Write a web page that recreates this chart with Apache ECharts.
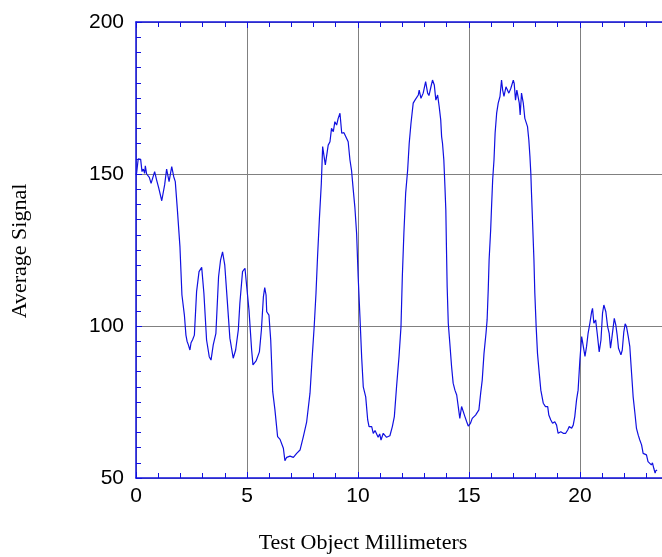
<!DOCTYPE html>
<html lang="en">
<head>
    <meta charset="UTF-8">
    <title>Average Signal</title>
    <style>
        body {
            margin: 0;
            background: #fff;
        }

        #main {
            width: 662px;
            height: 557px;
        }
    </style>
</head>
<body>
<div id="main"></div>
<script src="https://cdn.jsdelivr.net/npm/echarts@6/dist/echarts.min.js"></script>
<script>
    let mm = [
        0.00, 0.03, 0.10, 0.21, 0.27, 0.33, 0.39, 0.42, 0.48, 0.55, 0.60, 0.68, 0.75, 0.84, 0.93,
        1.02, 1.10, 1.16, 1.22, 1.29, 1.38, 1.49, 1.61, 1.70, 1.77, 1.86, 1.98, 2.07, 2.18, 2.25,
        2.30, 2.36, 2.43, 2.48, 2.55, 2.63, 2.73, 2.84, 2.96, 3.06, 3.18, 3.30, 3.38, 3.48, 3.60,
        3.72, 3.81, 3.90, 4.00, 4.11, 4.23, 4.38, 4.49, 4.61, 4.68, 4.80, 4.91, 4.98, 5.09, 5.21,
        5.27, 5.33, 5.41, 5.50, 5.56, 5.65, 5.74, 5.80, 5.86, 5.89, 5.99, 6.07, 6.16, 6.26, 6.38,
        6.49, 6.56, 6.64, 6.71, 6.79, 6.94, 7.09, 7.24, 7.39, 7.46, 7.54, 7.69, 7.84, 7.94, 8.03,
        8.11, 8.18, 8.26, 8.35, 8.41, 8.47, 8.53, 8.59, 8.66, 8.74, 8.81, 8.89, 8.96, 9.04, 9.11,
        9.19, 9.27, 9.37, 9.46, 9.56, 9.64, 9.71, 9.79, 9.86, 9.94, 10.01, 10.09, 10.17, 10.24, 10.35,
        10.44, 10.50, 10.62, 10.69, 10.77, 10.84, 10.91, 10.98, 11.04, 11.14, 11.22, 11.29, 11.44, 11.55, 11.64,
        11.74, 11.85, 11.94, 12.00, 12.07, 12.15, 12.24, 12.31, 12.39, 12.49, 12.57, 12.65, 12.72, 12.76, 12.84,
        12.94, 13.05, 13.14, 13.20, 13.29, 13.36, 13.44, 13.51, 13.59, 13.66, 13.73, 13.77, 13.81, 13.87, 13.92,
        13.96, 13.99, 14.02, 14.07, 14.14, 14.22, 14.29, 14.37, 14.45, 14.52, 14.59, 14.67, 14.74, 14.82, 14.90,
        14.97, 15.07, 15.15, 15.22, 15.30, 15.45, 15.53, 15.60, 15.68, 15.77, 15.82, 15.87, 15.91, 15.98, 16.02,
        16.07, 16.13, 16.18, 16.25, 16.32, 16.40, 16.47, 16.52, 16.58, 16.67, 16.73, 16.80, 16.89, 17.00, 17.04,
        17.10, 17.16, 17.22, 17.27, 17.31, 17.37, 17.45, 17.52, 17.58, 17.64, 17.70, 17.75, 17.79, 17.82, 17.87,
        17.93, 17.97, 18.03, 18.09, 18.17, 18.24, 18.35, 18.45, 18.55, 18.60, 18.69, 18.77, 18.87, 18.95, 19.02,
        19.14, 19.25, 19.36, 19.45, 19.52, 19.63, 19.70, 19.77, 19.85, 19.92, 20.00, 20.08, 20.15, 20.23, 20.30,
        20.37, 20.45, 20.53, 20.57, 20.63, 20.71, 20.78, 20.87, 20.95, 21.02, 21.08, 21.17, 21.25, 21.32, 21.38,
        21.44, 21.55, 21.62, 21.68, 21.74, 21.80, 21.85, 21.91, 21.98, 22.04, 22.10, 22.18, 22.25, 22.33, 22.40,
        22.48, 22.55, 22.63, 22.70, 22.78, 22.85, 22.93, 23.00, 23.07, 23.15, 23.22, 23.27, 23.33, 23.39, 23.42,
        23.48
    ]
    let signal = [
        149.7, 150.4, 155.0, 154.8, 150.8, 151.6, 150.2, 152.7, 150.0, 150.4, 148.9, 146.9, 147.5, 150.8, 148.0,
        145.5, 145.2, 141.2, 141.2, 146.4, 151.6, 147.5, 152.4, 149.1, 147.5, 138.7, 126.1, 110.2, 103.6, 97.0,
        95.0, 93.8, 92.1, 94.5, 95.5, 97.0, 111.3, 117.9, 119.3, 110.7, 95.4, 89.9, 88.8, 93.8, 97.6,
        116.2, 121.7, 124.4, 120.0, 108.6, 96.0, 89.4, 92.1, 98.7, 107.5, 117.9, 119.0, 118.4, 105.3, 92.1,
        87.2, 87.2, 88.5, 88.6, 91.5, 98.7, 109.6, 112.6, 110.2, 104.7, 103.6, 95.4, 78.4, 72.4, 63.6,
        62.7, 63.0, 59.8, 55.7, 56.8, 57.2, 56.8, 58.1, 59.2, 59.5, 63.6, 68.5, 77.9, 89.9, 100.0,
        110.8, 122.8, 134.9, 146.9, 159.0, 158.5, 153.0, 153.5, 159.5, 160.6, 165.0, 163.9, 167.2, 166.1, 168.3,
        170.0, 163.4, 163.6, 163.9, 160.6, 154.6, 151.3, 144.7, 139.2, 130.5, 116.2, 103.1, 89.4, 80.0, 76.7,
        69.1, 66.9, 66.9, 64.7, 65.6, 65.2, 63.4, 64.5, 62.5, 64.7, 65.2, 63.4, 63.9, 66.9, 70.2,
        80.0, 89.9, 99.8, 116.2, 130.5, 143.7, 151.3, 160.1, 166.7, 173.3, 174.3, 174.9, 176.0, 177.6, 174.9,
        176.6, 180.4, 176.6, 175.8, 178.7, 180.9, 179.3, 174.3, 176.0, 172.2, 167.8, 162.3, 160.1, 154.6, 145.8,
        138.2, 125.0, 112.9, 100.9, 94.3, 86.6, 81.2, 78.9, 77.3, 73.5, 69.6, 73.5, 73.5, 70.2, 68.5,
        67.1, 68.0, 69.6, 70.2, 70.7, 72.4, 77.9, 82.2, 91.0, 97.6, 102.0, 111.8, 121.7, 131.6, 139.2,
        148.0, 154.6, 163.4, 170.0, 173.3, 175.5, 180.9, 177.6, 175.5, 178.7, 179.3, 176.6, 178.2, 180.9, 179.8,
        174.3, 177.6, 177.6, 173.3, 169.4, 176.6, 173.3, 168.3, 168.3, 165.6, 161.2, 155.7, 150.2, 143.7, 133.8,
        121.7, 110.8, 99.8, 91.0, 84.4, 78.9, 74.6, 73.5, 73.5, 70.7, 69.1, 68.0, 68.5, 67.4, 64.7,
        65.2, 64.7, 64.7, 65.8, 66.9, 66.4, 67.4, 70.2, 75.7, 78.9, 88.8, 96.5, 96.0, 90.0, 93.2,
        97.6, 100.9, 104.7, 105.8, 100.9, 102.0, 97.6, 91.5, 95.4, 104.2, 106.9, 104.7, 99.8, 97.6, 92.7,
        96.0, 102.5, 100.3, 97.0, 92.7, 92.7, 90.5, 92.1, 98.1, 100.7, 99.8, 96.5, 93.2, 84.4, 76.7,
        71.3, 66.3, 64.1, 62.5, 60.9, 58.1, 58.1, 57.6, 55.4, 55.9, 54.3, 55.0, 53.2, 51.6, 52.4,
        52.6
    ]
    let xTicks = [0, 5, 10, 15, 20]
    let yTicks = [50, 100, 150, 200]

    let points = mm.map((x, i) => [x, signal[i]])
    let blue = '#1010e0'
    let xMax = 23.7 // the picture is cut at the right edge
    let labelFont = {
        color: '#000',
        fontFamily: 'Liberation Sans, Arial, sans-serif',
        fontSize: 21
    }

    let myChart = echarts.init(document.querySelector('#main'))
    let option = {
        animation: false,
        grid: {
            left: 136,
            top: 22,
            right: 0,
            bottom: 79
        },
        xAxis: [
            {
                type: 'value',
                min: xTicks[0],
                max: xMax,
                interval: 5,
                axisLine: {onZero: false, lineStyle: {color: blue, width: 1.5}},
                axisTick: {inside: true, length: 6, lineStyle: {color: blue}},
                minorTick: {show: true, splitNumber: 5, length: 5, lineStyle: {color: blue}},
                splitLine: {show: true, showMaxLine: false, lineStyle: {color: '#808080', width: 1}},
                axisLabel: Object.assign({margin: 8, showMaxLabel: false}, labelFont)
            },
            {
                type: 'value',
                position: 'top',
                min: xTicks[0],
                max: xMax,
                interval: 5,
                axisLine: {onZero: false, lineStyle: {color: blue, width: 1.5}},
                axisTick: {inside: true, length: 6, lineStyle: {color: blue}},
                minorTick: {show: true, splitNumber: 5, length: 5, lineStyle: {color: blue}},
                splitLine: {show: false},
                axisLabel: {show: false}
            }
        ],
        yAxis: {
            type: 'value',
            min: yTicks[0],
            max: yTicks[yTicks.length - 1],
            interval: 50,
            axisLine: {show: true, onZero: false, lineStyle: {color: blue, width: 1.5}},
            axisTick: {show: true, inside: true, length: 6, lineStyle: {color: blue}},
            minorTick: {show: true, splitNumber: 10, length: 5, lineStyle: {color: blue}},
            splitLine: {show: true, lineStyle: {color: '#808080', width: 1}},
            axisLabel: Object.assign({margin: 12}, labelFont)
        },
        graphic: [
            {
                type: 'text',
                x: 363,
                y: 543,
                style: {
                    text: 'Test Object Millimeters',
                    fill: '#000',
                    font: '22px "Liberation Serif", "Times New Roman", serif',
                    textAlign: 'center',
                    textVerticalAlign: 'middle'
                }
            },
            {
                type: 'text',
                x: 20,
                y: 251,
                rotation: Math.PI / 2,
                style: {
                    text: 'Average Signal',
                    fill: '#000',
                    font: '22px "Liberation Serif", "Times New Roman", serif',
                    textAlign: 'center',
                    textVerticalAlign: 'middle'
                }
            }
        ],
        series: [
            {
                type: 'line',
                data: points,
                showSymbol: false,
                lineStyle: {color: blue, width: 1.2}
            }
        ]
    }
    myChart.setOption(option)
</script>
</body>
</html>
